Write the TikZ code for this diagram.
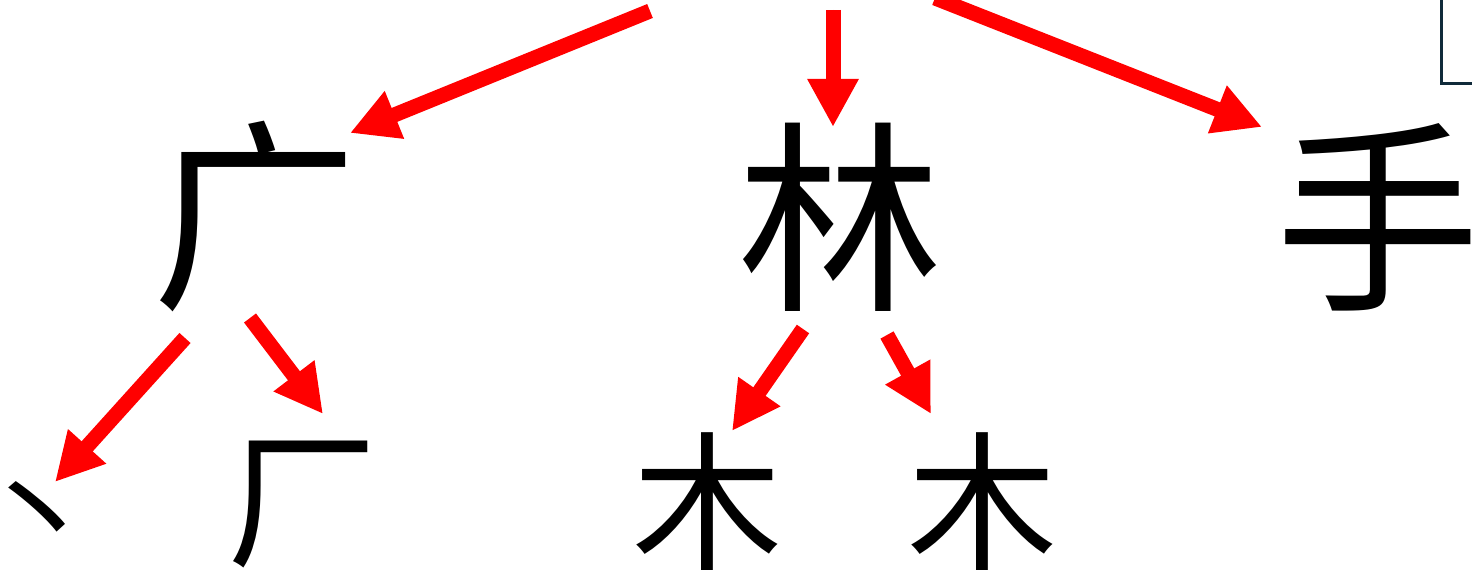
\documentclass[tikz,border=0pt]{standalone}
\usepackage{fontspec}
\newfontfamily\cjk{Noto Sans CJK SC}
\usetikzlibrary{arrows.meta}
\definecolor{arrowred}{RGB}{255,0,0}
\definecolor{boxnavy}{RGB}{16,42,58}
\tikzset{
  bigchar/.style={inner sep=0pt, font=\cjk\fontsize{205}{205}\selectfont},
  smallchar/.style={inner sep=0pt, font=\cjk\fontsize{150}{150}\selectfont},
  redarrow/.style={draw=arrowred, line width=15pt, -{Triangle[width=48pt,length=48pt]}, fill=arrowred},
}
\begin{document}
\begin{tikzpicture}[x=1pt,y=-1pt]
\useasboundingbox (0,0) rectangle (1472,577);
% characters
\node[bigchar] (guang) at (255,217) {广};
\node[bigchar] (lin) at (840,217) {林};
\node[bigchar] (shou) at (1378,217) {手};
\node[smallchar, font=\cjk\fontsize{125}{125}\selectfont] (dian) at (38,520) {丶};
\node[smallchar] (chang) at (302,505) {厂};
\node[smallchar] (mu1) at (707,502) {木};
\node[smallchar] (mu2) at (982,502) {木};
% arrow end points
\coordinate (t1) at (650,11);
\coordinate (h1) at (350,133);
\coordinate (t2) at (833,10);
\coordinate (h2) at (833,127);
\coordinate (t3) at (935,-2);
\coordinate (h3) at (1262,127);
\coordinate (t4) at (185,338);
\coordinate (h4) at (55,482);
\coordinate (t5) at (250,318);
\coordinate (h5) at (323,414);
\coordinate (t6) at (803,329);
\coordinate (h6) at (732,431);
\coordinate (t7) at (887,335);
\coordinate (h7) at (931,414);
\foreach \i in {1,...,7} {\draw[redarrow] (t\i) -- (h\i);}
% top-right box corner
\draw[boxnavy, line width=3pt] (1441,-2) -- (1441,84) -- (1474,84);
\end{tikzpicture}
\end{document}
